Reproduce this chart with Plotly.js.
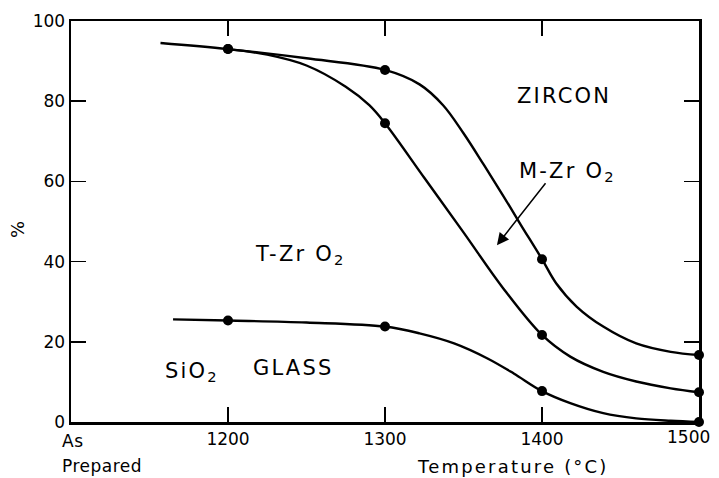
<!DOCTYPE html>
<html>
<head>
<meta charset="utf-8">
<script src="https://cdn.plot.ly/plotly-3.0.1.min.js"></script>
<style>
  html, body { margin: 0; padding: 0; background: #fff; }
  #chart { width: 719px; height: 478px; }
  .annotation-text { letter-spacing: 2.2px; }
</style>
</head>
<body>
<div id="chart"></div>
<script>
// Measured points (dots)
const tempPoints = [1200, 1300, 1400, 1500];
const zirconBoundary = [93, 87.8, 40.6, 16.7];
const monoclinicBoundary = [93, 74.5, 21.7, 7.4];
const glassBoundary = [25.3, 23.8, 7.7, 0];

// Curve positions
const zirconCurveX = [1157, 1200, 1250, 1300, 1322, 1337, 1350, 1363, 1375, 1386, 1400, 1409, 1422, 1439, 1460, 1482, 1500];
const zirconCurveY = [94.5, 93, 90.7, 87.8, 84.2, 79.0, 72, 64.1, 56.6, 49.5, 40.6, 34.6, 28.8, 23.8, 19.6, 17.5, 16.7];
const monoCurveX = [1200, 1225, 1250, 1275, 1290, 1300, 1325, 1350, 1375, 1400, 1418, 1439, 1460, 1482, 1500];
const monoCurveY = [93, 91.6, 88.9, 83.6, 79, 74.5, 60.9, 47.3, 33.5, 21.7, 16.3, 12.5, 10.1, 8.4, 7.4];
const glassCurveX = [1165, 1200, 1250, 1300, 1322, 1344, 1365, 1382, 1400, 1418, 1439, 1460, 1482, 1500];
const glassCurveY = [25.6, 25.3, 24.8, 23.8, 22.1, 19.6, 15.9, 12.1, 7.7, 4.7, 2.2, 0.9, 0.3, 0];

// Axis ticks (the last label, at the right edge, is drawn as an annotation)
const xTicks = [1200, 1300, 1400, 1500];
const xTickLabels = ['1200', '1300', '1400', ''];
const lastXLabel = '1500';
const yTicks = [0, 20, 40, 60, 80, 100];
const yTickLabels = ['0', '20', '40', '60', '80', '100'];

const FONT = 'DejaVu Sans, sans-serif';
const lineStyle = { color: '#000', width: 2.4, shape: 'spline', smoothing: 1 };

function curve(x, y) {
  return { x: x, y: y, type: 'scatter', mode: 'lines', line: lineStyle,
           hoverinfo: 'skip', showlegend: false, cliponaxis: false };
}
function dots(y) {
  return { x: tempPoints, y: y, type: 'scatter', mode: 'markers',
           marker: { color: '#000', size: 10 }, showlegend: false, cliponaxis: false };
}

const data = [
  curve(zirconCurveX, zirconCurveY),
  curve(monoCurveX, monoCurveY),
  curve(glassCurveX, glassCurveY),
  dots(zirconBoundary),
  dots(monoclinicBoundary),
  dots(glassBoundary)
];

const labelFont = { family: FONT, size: 21, color: '#000' };
const tickFont = { family: FONT, size: 17, color: '#000' };

const layout = {
  width: 719, height: 478,
  margin: { l: 71, r: 20, t: 21, b: 56 },
  paper_bgcolor: '#fff', plot_bgcolor: '#fff',
  showlegend: false,
  xaxis: {
    range: [1100, 1500], tickvals: xTicks, ticktext: xTickLabels,
    ticks: 'inside', ticklen: 15, tickwidth: 1.5, tickcolor: '#000',
    showline: true, linewidth: 2.5, linecolor: '#000', mirror: 'ticks',
    showgrid: false, zeroline: false, tickfont: tickFont, fixedrange: true
  },
  yaxis: {
    range: [0, 100], tickvals: yTicks, ticktext: yTickLabels,
    ticks: 'inside', ticklen: 15, tickwidth: 1.5, tickcolor: '#000',
    showline: true, linewidth: 2.5, linecolor: '#000', mirror: 'ticks',
    showgrid: false, zeroline: false, tickfont: tickFont, fixedrange: true
  },
  annotations: [
    { xref: 'x', yref: 'y', x: 1414.3, y: 81.3, text: 'ZIRCON', showarrow: false, font: labelFont },
    { xref: 'x', yref: 'y', x: 1371.3, y: 44.1, ax: 1403, ay: 59.9, axref: 'x', ayref: 'y',
      text: '', showarrow: true, arrowhead: 2, arrowsize: 1.6, arrowwidth: 1.5, arrowcolor: '#000' },
    { xref: 'x', yref: 'y', x: 1416, y: 62.3, text: 'M-Zr O<sub>2</sub>', showarrow: false, font: labelFont },
    { xref: 'x', yref: 'y', x: 1246, y: 41.6, text: 'T-Zr O<sub>2</sub>', showarrow: false, font: labelFont },
    { xref: 'x', yref: 'y', x: 1177, y: 12.4, text: 'SiO<sub>2</sub>', showarrow: false, font: labelFont },
    { xref: 'x', yref: 'y', x: 1241.4, y: 13.5, text: 'GLASS', showarrow: false, font: labelFont },
    { xref: 'paper', yref: 'paper', x: 1.021, y: -0.0385, xanchor: 'right', yanchor: 'middle',
      text: '<span style="letter-spacing:0px">' + lastXLabel + '</span>', showarrow: false, font: tickFont },
    { xref: 'paper', yref: 'paper', x: -0.0175, y: -0.047, xanchor: 'left', yanchor: 'middle',
      text: '<span style="letter-spacing:0.5px">As</span>', showarrow: false, font: tickFont },
    { xref: 'paper', yref: 'paper', x: -0.0175, y: -0.110, xanchor: 'left', yanchor: 'middle',
      text: '<span style="letter-spacing:0.5px">Prepared</span>', showarrow: false, font: tickFont },
    { xref: 'paper', yref: 'paper', x: 0.704, y: -0.110, xanchor: 'center', yanchor: 'middle',
      text: 'Temperature (°C)', showarrow: false, font: { family: FONT, size: 18, color: '#000' } },
    { xref: 'paper', yref: 'paper', x: -0.0844, y: 0.484, xanchor: 'center', yanchor: 'middle',
      text: '%', textangle: -90, showarrow: false, font: { family: FONT, size: 18, color: '#000' } }
  ]
};

Plotly.newPlot('chart', data, layout, { displayModeBar: false, staticPlot: true });
</script>
</body>
</html>
